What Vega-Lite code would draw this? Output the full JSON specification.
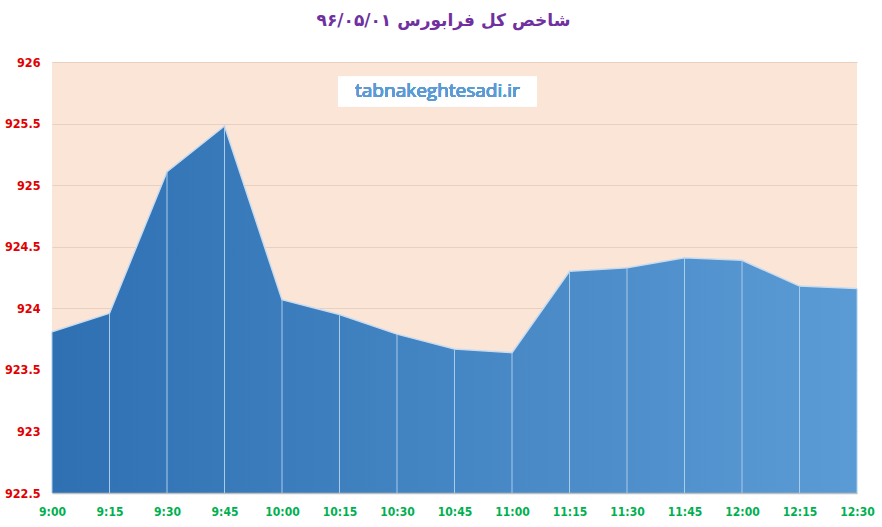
{
  "$schema": "https://vega.github.io/schema/vega-lite/v6.json",
  "autosize": {"type": "none"},
  "width": 805,
  "height": 431,
  "padding": {"left": 52, "top": 62, "right": 25, "bottom": 34},
  "background": "#ffffff",
  "config": {
    "view": {"fill": "#fbe5d6", "stroke": null},
    "font": "DejaVu Sans Condensed"
  },
  "title": {
    "text": "شاخص کل فرابورس ۹۶/۰۵/۰۱",
    "font": "DejaVu Sans",
    "fontSize": 17,
    "fontWeight": "bold",
    "color": "#7030a0",
    "anchor": "middle",
    "offset": 26,
    "dx": -11
  },
  "data": {
    "values": [
      {"time": "2017-07-23T09:00:00", "value": 923.81},
      {"time": "2017-07-23T09:15:00", "value": 923.96},
      {"time": "2017-07-23T09:30:00", "value": 925.11},
      {"time": "2017-07-23T09:45:00", "value": 925.48},
      {"time": "2017-07-23T10:00:00", "value": 924.07},
      {"time": "2017-07-23T10:15:00", "value": 923.95},
      {"time": "2017-07-23T10:30:00", "value": 923.79},
      {"time": "2017-07-23T10:45:00", "value": 923.67},
      {"time": "2017-07-23T11:00:00", "value": 923.64},
      {"time": "2017-07-23T11:15:00", "value": 924.30},
      {"time": "2017-07-23T11:30:00", "value": 924.33},
      {"time": "2017-07-23T11:45:00", "value": 924.41},
      {"time": "2017-07-23T12:00:00", "value": 924.39},
      {"time": "2017-07-23T12:15:00", "value": 924.18},
      {"time": "2017-07-23T12:30:00", "value": 924.16}
    ]
  },
  "encoding": {
    "x": {
      "field": "time",
      "type": "temporal",
      "scale": {"nice": false},
      "axis": {
        "title": null,
        "format": "%-H:%M",
        "grid": false,
        "ticks": false,
        "domain": true,
        "domainColor": "#bfbfbf",
        "domainWidth": 1.5,
        "zindex": 1,
        "labelColor": "#00b050",
        "labelFont": "DejaVu Sans Condensed",
        "labelFontWeight": "bold",
        "labelFontSize": 12,
        "labelPadding": 13,
        "labelFlush": false,
        "labelOverlap": false
      }
    },
    "y": {
      "field": "value",
      "type": "quantitative",
      "scale": {"domain": [922.5, 926], "nice": false, "zero": false},
      "axis": {
        "title": null,
        "values": [922.5, 923, 923.5, 924, 924.5, 925, 925.5, 926],
        "format": "~g",
        "grid": true,
        "gridColor": "#e8cfc0",
        "ticks": false,
        "domain": false,
        "labelColor": "#e00000",
        "labelFont": "DejaVu Sans Condensed",
        "labelFontWeight": "bold",
        "labelFontSize": 12.5,
        "labelPadding": 12
      }
    }
  },
  "layer": [
    {
      "mark": {
        "type": "area",
        "opacity": 1,
        "color": {
          "gradient": "linear",
          "x1": 0, "y1": 1, "x2": 1, "y2": 1,
          "stops": [
            {"offset": 0, "color": "#2e70b2"},
            {"offset": 1, "color": "#5b9bd5"}
          ]
        },
        "line": {"color": "#c9dcef", "strokeWidth": 1.5}
      },
      "encoding": {
        "y2": {"datum": 922.5}
      }
    },
    {
      "mark": {"type": "rule", "color": "#a9cbec", "strokeWidth": 1},
      "encoding": {
        "y2": {"datum": 922.5}
      }
    },
    {
      "mark": {"type": "rect", "color": "#ffffff", "opacity": 0.9},
      "encoding": {
        "x": {"datum": {"year": 2017, "month": 7, "date": 23, "hours": 10, "minutes": 14, "seconds": 36}},
        "x2": {"datum": {"year": 2017, "month": 7, "date": 23, "hours": 11, "minutes": 6, "seconds": 30}},
        "y": {"datum": 925.88},
        "y2": {"datum": 925.64}
      }
    },
    {
      "mark": {
        "type": "text",
        "text": "tabnakeghtesadi.ir",
        "font": "Open Sans",
        "fontSize": 19,
        "color": "#5b9bd5",
        "align": "center",
        "baseline": "middle"
      },
      "encoding": {
        "x": {"datum": {"year": 2017, "month": 7, "date": 23, "hours": 10, "minutes": 40, "seconds": 33}},
        "y": {"datum": 925.765}
      }
    }
  ]
}
